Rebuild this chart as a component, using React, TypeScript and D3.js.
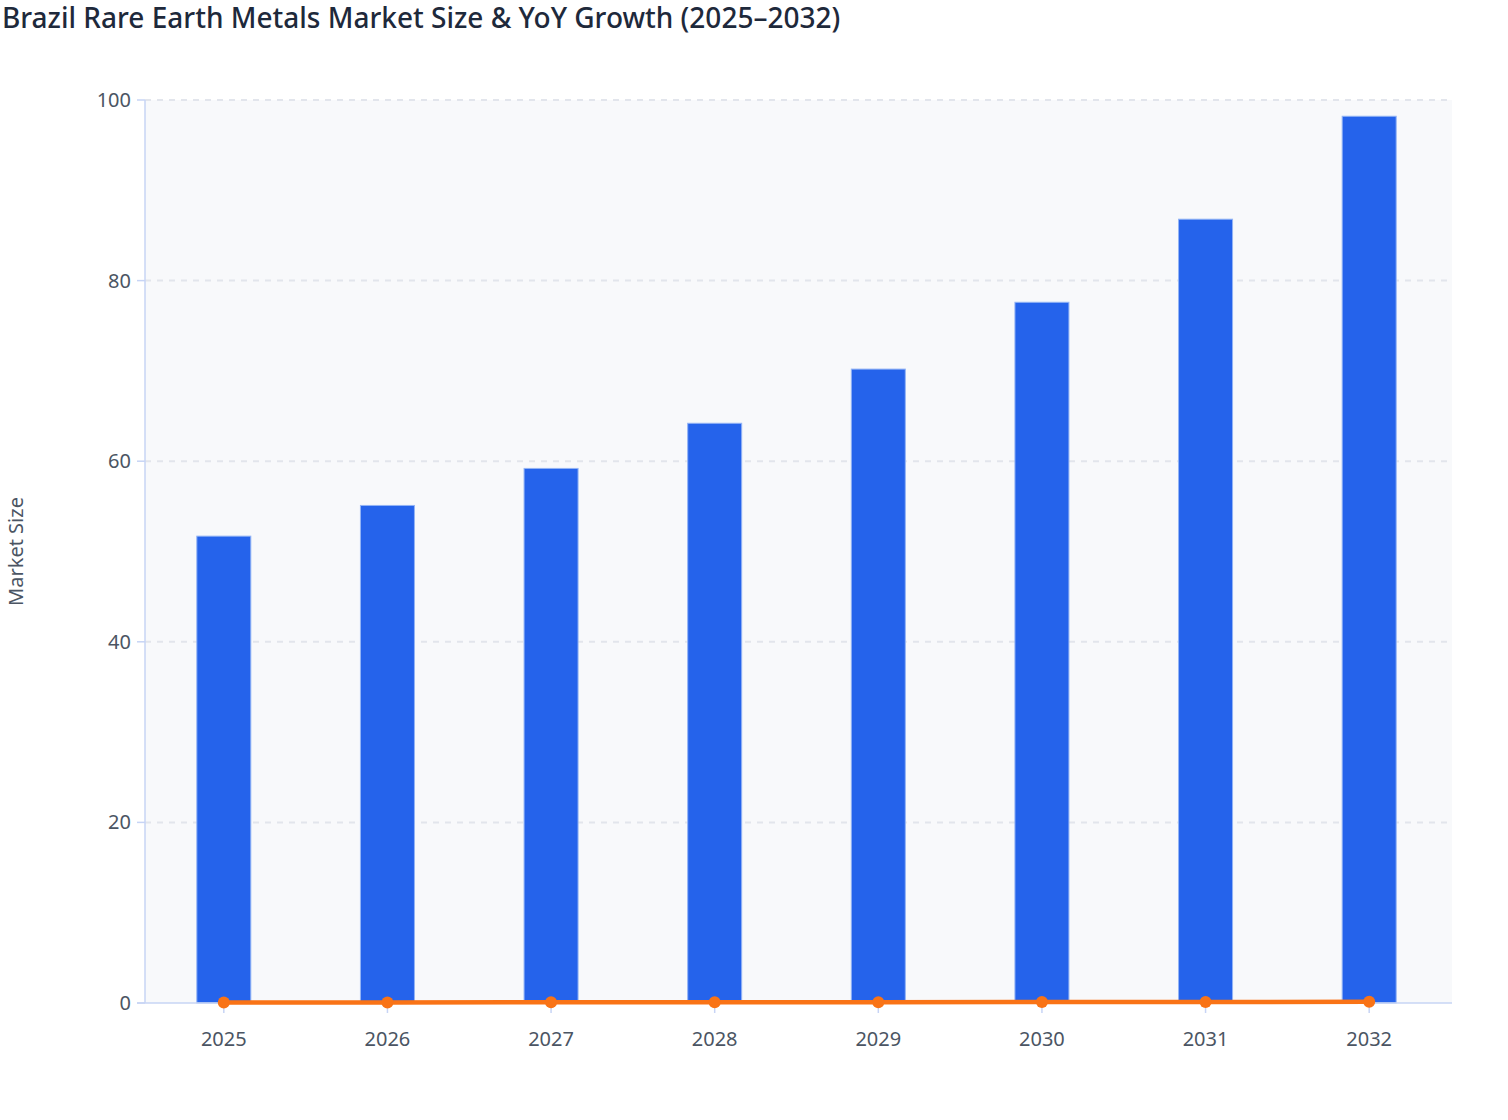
import { useEffect, useRef } from 'react';
import * as d3 from 'd3';

const years = ['2025', '2026', '2027', '2028', '2029', '2030', '2031', '2032'];
const marketSize = [51.7, 55.1, 59.2, 64.2, 70.2, 77.6, 86.8, 98.2];
const yoyGrowth = [0.06, 0.066, 0.074, 0.085, 0.093, 0.105, 0.119, 0.131];
const yTicks = [0, 20, 40, 60, 80, 100];

export default function App() {
    const svgRef = useRef<SVGSVGElement>(null);
    const width = 1500;
    const height = 1104;
    const margin = { top: 100, right: 48, bottom: 101, left: 145 };

    useEffect(() => {
        if (!svgRef.current) return;
        const svg = d3.select(svgRef.current);
        svg.selectAll('*').remove();

        const innerWidth = width - margin.left - margin.right;
        const innerHeight = height - margin.top - margin.bottom;
        const font = '"Noto Sans", "Open Sans", sans-serif';

        const x = d3.scaleBand().domain(years).range([-3, innerWidth - 1]).paddingInner(0.67).paddingOuter(0.335);
        const y = d3.scaleLinear().domain([0, 100]).range([innerHeight, 0]);

        svg.append('text')
            .attr('x', 2)
            .attr('y', 28)
            .attr('font-family', font)
            .attr('font-size', 28)
            .attr('font-weight', 500)
            .attr('fill', '#1e293b')
            .text('Brazil Rare Earth Metals Market Size & YoY Growth (2025–2032)');

        const g = svg.append('g').attr('transform', `translate(${margin.left},${margin.top})`);

        g.append('rect')
            .attr('width', innerWidth)
            .attr('height', innerHeight)
            .attr('fill', '#f8f9fb');

        // grid
        g.selectAll('line.grid')
            .data(yTicks.filter(t => t !== 0))
            .enter()
            .append('line')
            .attr('x1', 0)
            .attr('x2', innerWidth)
            .attr('y1', d => y(d))
            .attr('y2', d => y(d))
            .attr('stroke', '#e2e5ec')
            .attr('stroke-width', 2)
            .attr('stroke-dasharray', '6,6');

        // bars
        g.selectAll('rect.bar')
            .data(marketSize)
            .enter()
            .append('rect')
            .attr('x', (_, i) => x(years[i])!)
            .attr('y', d => y(d))
            .attr('width', x.bandwidth())
            .attr('height', d => innerHeight - y(d))
            .attr('fill', '#2563eb')
            .attr('stroke', '#93b4f5')
            .attr('stroke-width', 1);

        // axes
        g.append('line')
            .attr('x1', 0).attr('x2', 0)
            .attr('y1', 0).attr('y2', innerHeight)
            .attr('stroke', '#c7d4f5').attr('stroke-width', 1.5);
        g.append('line')
            .attr('x1', -8).attr('x2', innerWidth)
            .attr('y1', innerHeight).attr('y2', innerHeight)
            .attr('stroke', '#c7d4f5').attr('stroke-width', 1.5);

        yTicks.forEach(t => {
            g.append('line')
                .attr('x1', -8).attr('x2', 0)
                .attr('y1', y(t)).attr('y2', y(t))
                .attr('stroke', '#c7d4f5').attr('stroke-width', 1.5);
            g.append('text')
                .attr('x', -14)
                .attr('y', y(t))
                .attr('dy', '0.35em')
                .attr('text-anchor', 'end')
                .attr('font-family', font)
                .attr('font-size', 20)
                .attr('fill', '#4b5563')
                .text(t);
        });

        years.forEach(yr => {
            const cx = x(yr)! + x.bandwidth() / 2;
            g.append('line')
                .attr('x1', cx).attr('x2', cx)
                .attr('y1', innerHeight).attr('y2', innerHeight + 10)
                .attr('stroke', '#c7d4f5').attr('stroke-width', 1.5);
            g.append('text')
                .attr('x', cx)
                .attr('y', innerHeight + 43)
                .attr('text-anchor', 'middle')
                .attr('font-family', font)
                .attr('font-size', 20)
                .attr('fill', '#4b5563')
                .text(yr);
        });

        // yoy line
        const line = d3.line<number>()
            .x((_, i) => x(years[i])! + x.bandwidth() / 2)
            .y(d => y(d));
        g.append('path')
            .datum(yoyGrowth)
            .attr('d', line)
            .attr('fill', 'none')
            .attr('stroke', '#f97316')
            .attr('stroke-width', 4.5);
        g.selectAll('circle.pt')
            .data(yoyGrowth)
            .enter()
            .append('circle')
            .attr('cx', (_, i) => x(years[i])! + x.bandwidth() / 2)
            .attr('cy', d => y(d))
            .attr('r', 6)
            .attr('fill', '#f97316');

        svg.append('text')
            .attr('transform', `translate(23,${margin.top + innerHeight / 2}) rotate(-90)`)
            .attr('text-anchor', 'middle')
            .attr('font-family', font)
            .attr('font-size', 20)
            .attr('fill', '#4b5563')
            .text('Market Size');
    }, []);

    return (
        <svg
            ref={svgRef}
            width={width}
            height={height}
            style={{ position: 'absolute', left: 0, top: 0, overflow: 'visible' }}
        />
    );
}
